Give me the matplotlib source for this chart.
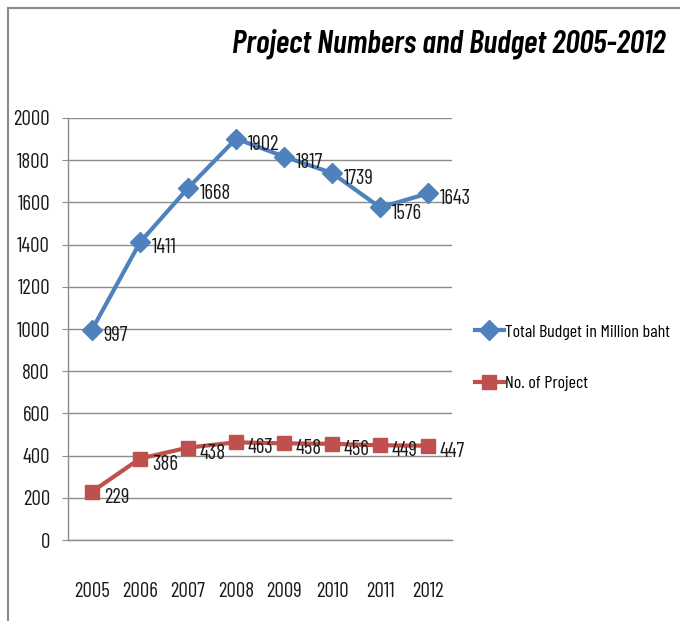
import matplotlib.pyplot as plt
from matplotlib.lines import Line2D

##### data #####
YEARS = ["2005", "2006", "2007", "2008", "2009", "2010", "2011", "2012"]
BUDGET = [997, 1411, 1668, 1902, 1817, 1739, 1576, 1643]
PROJECTS = [229, 386, 438, 463, 458, 456, 449, 447]
Y_TICKS = [0, 200, 400, 600, 800, 1000, 1200, 1400, 1600, 1800, 2000]

BLUE = "#4F81BD"
RED = "#C0504D"
GRID = "#8C8C8C"
TEXT = "#1a1a1a"
FS = 15

plt.rcParams["font.family"] = ["Barlow Condensed", "Archivo Narrow", "DejaVu Sans"]

fig = plt.figure(figsize=(6.8, 6.22), dpi=100)
ax = fig.add_axes([0.1, 0.1318, 0.565, 0.6785])

x = range(len(YEARS))
ax.plot(x, BUDGET, color=BLUE, linewidth=3, marker="D", markersize=10.5,
        label="Total Budget in Million baht")
ax.plot(x, PROJECTS, color=RED, linewidth=3, marker="s", markersize=10.5,
        label="No. of Project")

##### data labels to the right of points #####
for xi, v in zip(x, BUDGET):
    ax.annotate(str(v), (xi, v), xytext=(8.5, -4), textcoords="offset points",
                ha="left", va="center", fontsize=FS, color=TEXT)
for xi, v in zip(x, PROJECTS):
    ax.annotate(str(v), (xi, v), xytext=(8.5, -4), textcoords="offset points",
                ha="left", va="center", fontsize=FS, color=TEXT)

ax.set_xlim(-0.5, len(YEARS) - 0.5)
ax.set_ylim(0, 2000)
ax.set_yticks(Y_TICKS)
ax.set_xticks(list(x))
ax.set_xticklabels(YEARS)
ax.tick_params(axis="both", labelsize=FS, labelcolor=TEXT, color=GRID)
ax.tick_params(axis="y", length=4, pad=9)
ax.tick_params(axis="x", length=0, pad=30)

ax.grid(axis="y", color=GRID, linewidth=1)
ax.set_axisbelow(True)
for side in ["top", "right"]:
    ax.spines[side].set_visible(False)
for side in ["left", "bottom"]:
    ax.spines[side].set_color(GRID)
    ax.spines[side].set_linewidth(1)

##### legend #####
handles = [
    Line2D([], [], color=BLUE, linewidth=3, marker="D", markersize=10),
    Line2D([], [], color=RED, linewidth=3, marker="s", markersize=10),
]
fig.legend(handles, ["Total Budget in Million baht", "No. of Project"],
           loc="center left", bbox_to_anchor=(0.698, 0.425), frameon=False,
           fontsize=13, handlelength=1.6, handletextpad=0.1,
           labelspacing=2.0, borderpad=0, borderaxespad=0)

##### title #####
fig.text(0.978, 0.93, "Project Numbers and Budget 2005-2012", ha="right",
         va="center", fontsize=23, style="italic", weight="semibold")

##### partial outer border #####
fig.add_artist(Line2D([0.012, 1.0], [0.987, 0.987], color="#8a8a8a",
                      linewidth=1.5, transform=fig.transFigure))
fig.add_artist(Line2D([0.012, 0.012], [0.003, 0.987], color="#8a8a8a",
                      linewidth=1.5, transform=fig.transFigure))

fig.savefig("out.png", dpi=100, facecolor="white")
